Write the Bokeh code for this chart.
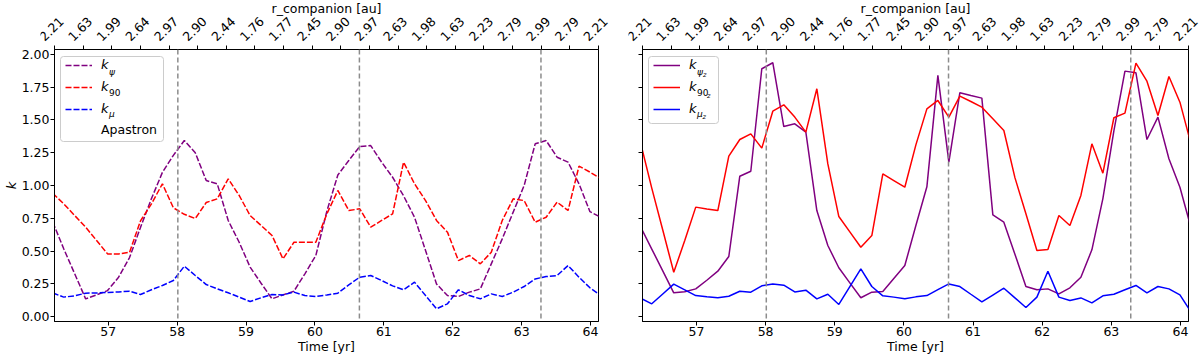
import math
from bokeh.plotting import figure
from bokeh.models import (Range1d, FixedTicker, Span, ColumnDataSource,
                          Legend, LegendItem, Label, NumeralTickFormatter, BoxAnnotation, LinearAxis)
from bokeh.core.properties import value
from bokeh.layouts import row, column
from bokeh.embed import file_html
from bokeh.resources import INLINE

# ---------------- data ----------------
time = [56.195, 56.354, 56.513, 56.672, 56.831, 56.990, 57.150, 57.309, 57.468, 57.627,
        57.786, 57.945, 58.104, 58.263, 58.422, 58.582, 58.741, 58.900, 59.059, 59.218,
        59.377, 59.536, 59.695, 59.854, 60.013, 60.173, 60.332, 60.491, 60.650, 60.809,
        60.968, 61.127, 61.286, 61.445, 61.605, 61.764, 61.923, 62.082, 62.241, 62.400,
        62.559, 62.718, 62.877, 63.036, 63.196, 63.355, 63.514, 63.673, 63.832, 63.991,
        64.150]

k_psi = [0.72, 0.517, 0.326, 0.135, 0.165, 0.198, 0.300, 0.45, 0.68, 0.90,
         1.10, 1.23, 1.343, 1.25, 1.038, 1.013, 0.733, 0.567, 0.377, 0.254,
         0.135, 0.165, 0.193, 0.326, 0.466, 0.804, 1.08, 1.191, 1.298, 1.305,
         1.178, 1.063, 0.921, 0.758, 0.504, 0.249, 0.160, 0.153, 0.186, 0.211,
         0.402, 0.593, 0.797, 1.0, 1.318, 1.343, 1.216, 1.178, 1.013, 0.80, 0.758]

k_90 = [0.94, 0.860, 0.771, 0.682, 0.580, 0.478, 0.478, 0.49, 0.73, 0.86,
        1.013, 0.83, 0.78, 0.748, 0.87, 0.898, 1.051, 0.924, 0.771, 0.695,
        0.618, 0.440, 0.567, 0.567, 0.567, 0.784, 0.962, 0.809, 0.822, 0.682,
        0.733, 0.784, 1.178, 1.013, 0.885, 0.733, 0.644, 0.427, 0.466, 0.402,
        0.491, 0.733, 0.898, 0.885, 0.720, 0.758, 0.873, 0.809, 1.148, 1.102, 1.051]

k_mu = [0.18, 0.148, 0.158, 0.178, 0.180, 0.183, 0.188, 0.193, 0.168, 0.204,
        0.237, 0.275, 0.384, 0.313, 0.244, 0.211, 0.181, 0.148, 0.115, 0.143,
        0.168, 0.165, 0.186, 0.160, 0.153, 0.165, 0.178, 0.242, 0.300, 0.313,
        0.275, 0.234, 0.204, 0.262, 0.160, 0.059, 0.097, 0.204, 0.160, 0.135,
        0.173, 0.153, 0.186, 0.229, 0.287, 0.305, 0.313, 0.389, 0.300, 0.219, 0.160]

k_psi_z = [0.682, 0.515, 0.349, 0.181, 0.189, 0.211, 0.277, 0.346, 0.458, 1.071,
           1.109, 1.891, 1.937, 1.450, 1.471, 1.407, 0.809, 0.542, 0.372, 0.257,
           0.143, 0.186, 0.191, 0.29, 0.389, 0.695, 0.99, 1.84, 1.178, 1.708,
           1.687, 1.667, 0.776, 0.720, 0.476, 0.229, 0.204, 0.211, 0.173, 0.219,
           0.300, 0.509, 0.90, 1.417, 1.873, 1.860, 1.351, 1.522, 1.204, 0.987, 0.68]

k_90_z = [1.32, 0.98, 0.66, 0.338, 0.58, 0.835, 0.82, 0.809, 1.224, 1.351,
          1.394, 1.285, 1.567, 1.616, 1.522, 1.407, 1.738, 1.165, 0.763, 0.646,
          0.529, 0.618, 1.089, 1.038, 0.987, 1.31, 1.585, 1.649, 1.522, 1.682,
          1.641, 1.598, 1.509, 1.420, 1.06, 0.784, 0.504, 0.511, 0.771, 0.695,
          0.924, 1.318, 1.094, 1.517, 1.552, 1.934, 1.796, 1.534, 1.832, 1.636, 1.32]

k_mu_z = [0.14, 0.097, 0.172, 0.247, 0.204, 0.160, 0.151, 0.143, 0.155, 0.193,
          0.186, 0.234, 0.249, 0.239, 0.188, 0.201, 0.135, 0.170, 0.092, 0.228,
          0.364, 0.229, 0.158, 0.148, 0.135, 0.150, 0.160, 0.205, 0.249, 0.229,
          0.170, 0.112, 0.164, 0.216, 0.142, 0.069, 0.148, 0.346, 0.148, 0.122,
          0.142, 0.104, 0.158, 0.170, 0.204, 0.237, 0.181, 0.229, 0.211, 0.165, 0.035]

apastron = [58.01, 60.645, 63.28]

r_companion_labels = ["2.21", "1.63", "1.99", "2.64", "2.97", "2.90", "2.44", "1.76", "1.77", "2.45",
                      "2.90", "2.97", "2.63", "1.98", "1.63", "2.23", "2.79", "2.99", "2.79", "2.21"]

time_ticks = [57, 58, 59, 60, 61, 62, 63, 64]
k_ticks = [0.0, 0.25, 0.5, 0.75, 1.0, 1.25, 1.5, 1.75, 2.0]

# ---------------- layout constants ----------------
FONT = "DejaVu Sans"
FS = "12.5px"
X0, X1 = 56.22, 64.115
Y0, Y1 = -0.038, 2.038
FH = 272          # main frame height (49 -> 321)
HH = 45           # header strip height (0 -> 45)
TOPB = 4          # main figure top border (45 -> 49), holds the top ticks
BOT = 36
n_top = len(r_companion_labels)
top_ticks = [min(X1, X0 + (X1 - X0) * i / (n_top - 1)) for i in range(n_top)]
DASH = "6 2"
ADASH = "5 3"


def style_axis(ax):
    ax.axis_line_color = "black"
    ax.axis_line_width = 1
    ax.major_tick_line_color = "black"
    ax.major_tick_line_width = 1
    ax.major_tick_in = 0
    ax.major_tick_out = 4
    ax.minor_tick_line_color = None
    ax.major_label_text_font = FONT
    ax.major_label_text_font_size = FS
    ax.major_label_text_color = "black"
    ax.axis_label_text_font = FONT
    ax.axis_label_text_font_size = FS
    ax.axis_label_text_font_style = "normal"
    ax.axis_label_text_color = "black"
    ax.major_label_standoff = 1
    ax.axis_label_standoff = 0


def make_header(fw, bl, br, padl, padr):
    """Strip above a panel holding the rotated r_companion labels and the title."""
    sx = (X1 - X0) / fw
    h = figure(frame_width=fw + padl + padr, frame_height=HH,
               x_range=Range1d(X0 - padl * sx, X1 + padr * sx), y_range=Range1d(0, HH),
               output_backend="svg", toolbar_location=None,
               x_axis_location=None, y_axis_location=None,
               min_border_left=bl - padl, min_border_right=br - padr,
               min_border_top=0, min_border_bottom=0)
    h.xgrid.visible = False
    h.ygrid.visible = False
    h.outline_line_color = None
    h.background_fill_color = "white"
    h.border_fill_color = "white"
    src = ColumnDataSource(dict(x=top_ticks, lab=r_companion_labels, ly=[16.5] * n_top))
    h.text(x="x", y="ly", text="lab", source=src, angle=math.pi / 4, x_offset=-3,
           text_align="center", text_baseline="middle", text_font=value(FONT),
           text_font_size=value(FS), text_color="black")
    h.text(x=[(X0 + X1) / 2], y=[HH - 7.5], text=["r_companion [au]"], text_align="center",
           text_baseline="middle", text_font=value(FONT), text_font_size=value(FS),
           text_color="black")
    return h


def make_fig(fw, bl, br, ylabel):
    p = figure(frame_width=fw, frame_height=FH, x_range=Range1d(X0, X1), y_range=Range1d(Y0, Y1),
               output_backend="svg", toolbar_location=None,
               min_border_left=bl, min_border_right=br, min_border_top=TOPB, min_border_bottom=BOT)
    p.xgrid.visible = False
    p.ygrid.visible = False
    p.outline_line_color = "black"
    p.outline_line_width = 1
    p.background_fill_color = "white"
    p.border_fill_color = "white"

    xb = p.below[0]
    style_axis(xb)
    xb.ticker = FixedTicker(ticks=time_ticks)
    xb.axis_label = "Time [yr]"

    ya = p.left[0]
    style_axis(ya)
    ya.ticker = FixedTicker(ticks=k_ticks)
    if ylabel:
        ya.formatter = NumeralTickFormatter(format="0.00")
        ya.axis_label = ylabel
        ya.axis_label_text_font_style = "italic"
        ya.axis_label_text_font_size = "13px"
    else:
        ya.major_label_text_color = None
        ya.major_label_standoff = 0

    # top axis: tick marks only (labels are drawn in the header strip)
    top = LinearAxis(ticker=FixedTicker(ticks=top_ticks))
    style_axis(top)
    top.major_label_text_color = None
    top.major_label_standoff = 0
    p.add_layout(top, "above")

    for a in apastron:
        p.add_layout(Span(location=a, dimension="height", line_color="#8c8c8c",
                          line_dash=ADASH, line_width=1.5))
    return p


def add_legend(p, fw, k_renderers, subs, box_w, box_h, ap_renderer=None):
    sx = (X1 - X0) / fw
    sy = (Y1 - Y0) / FH
    p.add_layout(BoxAnnotation(left=X0 + 6 * sx, right=X0 + (6 + box_w) * sx,
                               top=Y1 - 7 * sy, bottom=Y1 - (7 + box_h) * sy,
                               fill_color="white", fill_alpha=0.8, line_color="#cccccc",
                               line_alpha=1, line_width=1, border_radius=3, level="annotation"))
    common = dict(orientation="vertical", padding=0, margin=0, spacing=7,
                  glyph_width=27, glyph_height=14, label_height=14, label_width=10,
                  label_standoff=9, border_line_color=None, background_fill_alpha=0,
                  label_text_font=FONT, label_text_color="black", level="overlay")
    n = len(k_renderers)
    hA = n * 14 + (n - 1) * 7
    legA = Legend(items=[LegendItem(label="k", renderers=[r]) for r in k_renderers],
                  location=(11, FH - 11 - hA), label_text_font_size="13px",
                  label_text_font_style="italic", **common)
    p.add_layout(legA)
    if ap_renderer is not None:
        legB = Legend(items=[LegendItem(label="Apastron", renderers=[ap_renderer])],
                      location=(11, FH - 11 - 3 * 21 - 14), label_text_font_size=FS,
                      label_text_font_style="normal", **common)
        p.add_layout(legB)
    x_text = X0 + 47 * sx
    for i, parts in enumerate(subs):
        y_text = Y1 - (18 + 21 * i) * sy
        for (t, size, style, dx, dy) in parts:
            p.add_layout(Label(x=x_text, y=y_text, text=t, x_offset=dx, y_offset=dy,
                               text_font=FONT, text_font_size=size, text_font_style=style,
                               text_baseline="middle", text_align="left", text_color="black",
                               level="overlay"))


# ---------------- left panel ----------------
FW1, BL1, BR1 = 544, 54, 22
h1 = make_header(FW1, BL1, BR1, 14, 14)
p1 = make_fig(FW1, BL1, BR1, "k")
r1 = p1.line(time, k_psi, line_color="purple", line_width=1.5, line_dash=DASH)
r2 = p1.line(time, k_90, line_color="red", line_width=1.5, line_dash=DASH)
r3 = p1.line(time, k_mu, line_color="blue", line_width=1.5, line_dash=DASH)
r4 = p1.line([], [], line_color="#c4c4c4", line_width=1.5, line_dash=DASH)
add_legend(p1, FW1, [r1, r2, r3], [
    [("ψ", "9px", "italic", 7.5, -4)],
    [("90", "9px", "normal", 7.5, -4)],
    [("μ", "9px", "italic", 7.5, -4)],
], 103, 85, ap_renderer=r4)

# ---------------- right panel ----------------
FW2, BL2, BR2 = 546, 22, 12
h2 = make_header(FW2, BL2, BR2, 14, 12)
p2 = make_fig(FW2, BL2, BR2, None)
s1 = p2.line(time, k_psi_z, line_color="purple", line_width=1.5)
s2 = p2.line(time, k_90_z, line_color="red", line_width=1.5)
s3 = p2.line(time, k_mu_z, line_color="blue", line_width=1.5)
add_legend(p2, FW2, [s1, s2, s3], [
    [("ψ", "9px", "italic", 7.5, -4), ("z", "6.5px", "italic", 13.5, -7)],
    [("90", "9px", "normal", 7.5, -4), ("z", "6.5px", "italic", 17.5, -7)],
    [("μ", "9px", "italic", 7.5, -4), ("z", "6.5px", "italic", 13, -7)],
], 70, 67)

layout = column(row(h1, h2), row(p1, p2))
open("out.html", "w").write(file_html(layout, INLINE))
